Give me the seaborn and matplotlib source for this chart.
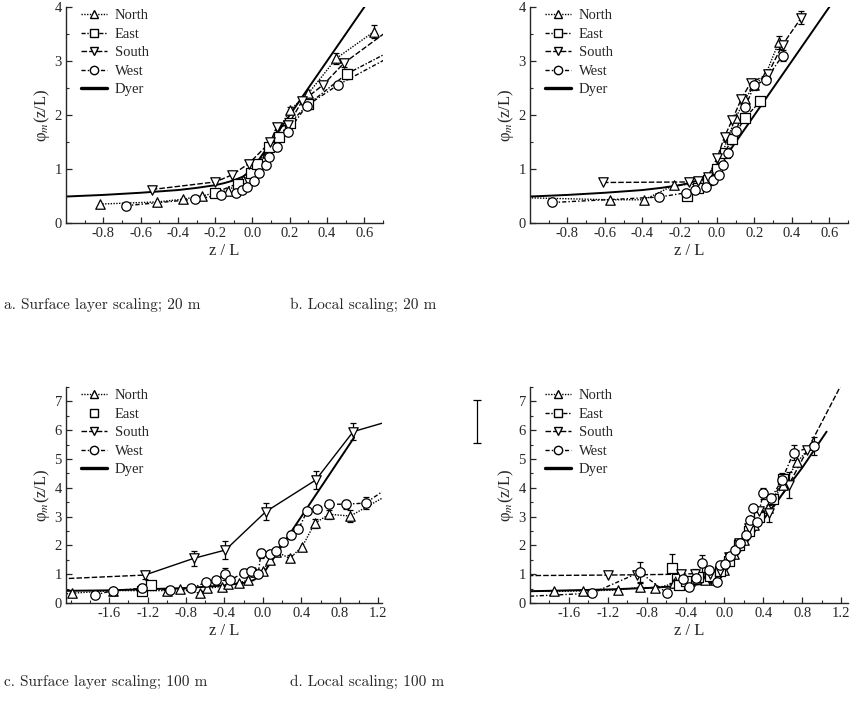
import numpy as np
import pandas as pd
import matplotlib
matplotlib.use("Agg")
import matplotlib.pyplot as plt
from matplotlib.lines import Line2D
from matplotlib.ticker import MultipleLocator, FormatStrFormatter
import seaborn as sns

sns.set_style("ticks")
plt.rcParams["font.family"] = ["Liberation Serif", "DejaVu Serif"]
plt.rcParams["mathtext.fontset"] = "stix"
plt.rcParams["axes.unicode_minus"] = False

# ---------------- data: panel a (surface layer scaling, 20 m) ----------------
a_north_x = [-0.82, -0.51, -0.375, -0.27, -0.2, -0.13, -0.05, 0.02, 0.08, 0.13, 0.2, 0.3, 0.45, 0.65]
a_north_y = [0.35, 0.39, 0.44, 0.5, 0.56, 0.6, 0.8, 1.05, 1.3, 1.65, 2.09, 2.4, 3.05, 3.54]
a_north_e = [0, 0, 0, 0, 0, 0, 0, 0, 0, 0, 0.06, 0, 0.1, 0.12]
a_east_x = [-0.2, -0.08, -0.007, 0.025, 0.087, 0.14, 0.2, 0.3, 0.505, 0.75]
a_east_y = [0.56, 0.73, 0.92, 1.09, 1.41, 1.6, 1.85, 2.2, 2.76, 3.2]
a_east_e = [0, 0, 0, 0, 0, 0, 0, 0, 0.1, 0]
a_south_x = [-0.54, -0.2, -0.11, -0.02, 0.096, 0.13, 0.19, 0.265, 0.38, 0.49, 0.75]
a_south_y = [0.62, 0.76, 0.89, 1.1, 1.5, 1.78, 1.81, 2.25, 2.56, 2.96, 3.62]
a_south_e = [0, 0, 0, 0, 0, 0.06, 0, 0, 0, 0.08, 0]
a_west_x = [-0.68, -0.31, -0.17, -0.09, -0.055, -0.03, 0.01, 0.034, 0.07, 0.09, 0.13, 0.19, 0.29, 0.46, 0.75]
a_west_y = [0.32, 0.44, 0.52, 0.56, 0.61, 0.66, 0.78, 0.92, 1.07, 1.23, 1.41, 1.69, 2.17, 2.56, 3.1]
a_west_e = [0] * 15

# ---------------- data: panel b (local scaling, 20 m) ----------------
b_north_x = [-1.05, -0.57, -0.39, -0.23, -0.1, -0.03, 0.02, 0.06, 0.1, 0.15, 0.2, 0.26, 0.33]
b_north_y = [0.47, 0.43, 0.43, 0.70, 0.72, 0.9, 1.2, 1.6, 1.95, 2.3, 2.55, 2.75, 3.35]
b_north_e = [0, 0, 0, 0, 0, 0, 0, 0, 0, 0, 0, 0, 0.12]
b_east_x = [-0.16, -0.1, -0.05, 0.0, 0.04, 0.08, 0.15, 0.23]
b_east_y = [0.50, 0.64, 0.8, 1.0, 1.3, 1.55, 1.95, 2.25]
b_east_e = [0, 0, 0, 0, 0, 0, 0, 0.08]
b_south_x = [-0.61, -0.15, -0.1, -0.05, 0.0, 0.04, 0.08, 0.13, 0.18, 0.27, 0.35, 0.45]
b_south_y = [0.75, 0.76, 0.78, 0.85, 1.2, 1.6, 1.9, 2.3, 2.6, 2.75, 3.3, 3.8]
b_south_e = [0, 0, 0, 0, 0, 0, 0, 0, 0, 0, 0, 0.12]
b_west_x = [-0.88, -0.31, -0.165, -0.12, -0.06, -0.02, 0.01, 0.03, 0.06, 0.1, 0.15, 0.2, 0.26, 0.35]
b_west_y = [0.38, 0.48, 0.56, 0.61, 0.67, 0.8, 0.89, 1.07, 1.3, 1.7, 2.15, 2.55, 2.65, 3.1]
b_west_e = [0, 0, 0, 0, 0, 0, 0, 0, 0, 0, 0, 0.08, 0, 0.1]

dyer_ab_x = [-1.0, -0.8, -0.6, -0.4, -0.3, -0.2, -0.15, -0.1, -0.05, 0.0, 0.7]
dyer_ab_y = [0.49, 0.52, 0.56, 0.61, 0.65, 0.70, 0.74, 0.79, 0.86, 1.0, 4.5]

# ---------------- data: panel c (surface layer scaling, 100 m) ----------------
c_north_x = [-2.1, -1.99, -1.56, -1.26, -1.0, -0.86, -0.66, -0.58, -0.43, -0.36, -0.25, -0.15, -0.08, 0.0,
             0.07, 0.14, 0.28, 0.41, 0.54, 0.69, 0.91, 1.3]
c_north_y = [0.3, 0.34, 0.43, 0.43, 0.43, 0.48, 0.34, 0.51, 0.57, 0.66, 0.7, 0.8, 1.09, 1.1,
             1.5, 1.78, 1.55, 1.96, 2.77, 3.08, 3.02, 3.75]
c_north_e = [0, 0, 0, 0, 0, 0, 0, 0, 0, 0, 0, 0, 0, 0, 0, 0, 0.1, 0, 0.15, 0.15, 0.2, 0]
c_east_x = [-1.26, -1.17]
c_east_y = [0.43, 0.62]
c_east_e = [0, 0.1]
c_south_x = [-2.1, -1.23, -0.72, -0.39, 0.03, 0.55, 0.94, 1.3]
c_south_y = [0.84, 0.97, 1.55, 1.84, 3.17, 4.27, 5.95, 6.3]
c_south_e = [0, 0.12, 0.25, 0.3, 0.3, 0.3, 0.3, 0]
c_west_x = [-1.75, -1.56, -1.26, -0.97, -0.75, -0.59, -0.49, -0.39, -0.34, -0.2, -0.12, -0.05, -0.02,
            0.07, 0.14, 0.21, 0.29, 0.37, 0.46, 0.56, 0.69, 0.86, 1.07, 1.3]
c_west_y = [0.28, 0.43, 0.51, 0.45, 0.51, 0.72, 0.8, 1.0, 0.8, 1.05, 1.1, 1.0, 1.72,
            1.70, 1.8, 2.13, 2.36, 2.56, 3.19, 3.28, 3.43, 3.43, 3.47, 4.0]
c_west_e = [0, 0, 0.15, 0.12, 0, 0, 0, 0.2, 0, 0.12, 0, 0, 0.15,
            0, 0, 0, 0.15, 0, 0, 0, 0, 0.15, 0.2, 0]
dyer_c_x = [-2.1, -1.6, -1.2, -0.8, -0.4, -0.2, -0.1, 0.0, 0.95]
dyer_c_y = [0.42, 0.44, 0.48, 0.52, 0.61, 0.70, 0.79, 1.0, 5.75]

# ---------------- data: panel d (local scaling, 100 m) ----------------
d_north_x = [-2.1, -1.75, -1.45, -1.09, -0.87, -0.71, -0.52, -0.35, -0.2, -0.1, 0.0, 0.1, 0.2, 0.3,
             0.45, 0.6, 0.75, 0.9]
d_north_y = [0.42, 0.4, 0.42, 0.45, 0.55, 0.51, 0.68, 0.75, 0.8, 0.8, 1.15, 1.7, 2.2, 2.7,
             3.3, 4.1, 4.9, 5.5]
d_north_e = [0, 0, 0, 0, 0.15, 0, 0, 0.12, 0.12, 0, 0, 0, 0, 0, 0, 0, 0, 0]
d_east_x = [-0.54, -0.47, -0.4, -0.27, -0.15, -0.05, 0.05, 0.15, 0.25, 0.35, 0.5, 0.6]
d_east_y = [1.2, 0.62, 0.78, 0.92, 0.95, 1.1, 1.45, 2.0, 2.5, 3.0, 3.6, 4.3]
d_east_e = [0.5, 0, 0, 0, 0, 0, 0, 0, 0, 0, 0, 0]
d_south_x = [-2.1, -1.2, -0.9, -0.45, -0.3, -0.15, -0.05, 0.05, 0.15, 0.25, 0.35, 0.46, 0.66, 0.85, 1.25]
d_south_y = [0.95, 0.97, 0.98, 1.0, 1.02, 1.0, 1.1, 1.6, 2.1, 2.6, 3.2, 3.11, 4.1, 5.3, 7.9]
d_south_e = [0, 0, 0, 0.15, 0.15, 0, 0, 0, 0, 0, 0, 0.3, 0.45, 0, 0]
d_west_x = [-2.1, -1.36, -0.87, -0.59, -0.43, -0.36, -0.29, -0.23, -0.16, -0.08, -0.05, 0.01, 0.06,
            0.11, 0.16, 0.22, 0.26, 0.29, 0.33, 0.40, 0.48, 0.59, 0.71, 0.92]
d_west_y = [0.22, 0.34, 1.07, 0.34, 0.82, 0.57, 0.86, 1.38, 1.15, 0.74, 1.32, 1.35, 1.63,
            1.84, 2.07, 2.36, 2.88, 3.29, 2.82, 3.81, 3.64, 4.27, 5.22, 5.45]
d_west_e = [0, 0, 0.35, 0, 0, 0, 0, 0.3, 0, 0, 0, 0, 0,
            0, 0, 0, 0, 0, 0, 0.2, 0, 0.25, 0.25, 0.3]
dyer_d_x = [-2.1, -1.2, -0.8, -0.4, -0.2, -0.07, 0.0, 0.4, 0.8, 1.05]
dyer_d_y = [0.40, 0.47, 0.52, 0.60, 0.67, 0.74, 1.05, 2.9, 4.7, 5.95]
stray_x = [-2.55]
stray_y = [6.3]
stray_e = [0.75]

labels = ["North", "East", "South", "West", "Dyer"]
markers = {"North": "^", "East": "s", "South": "v", "West": "o"}
styles = {"North": (0, (1, 1)), "East": (0, (3, 1.2, 1, 1.2)),
          "South": (0, (4, 1.5)), "West": (0, (3, 1.5, 1, 1.5))}

W, H = 852, 706
fig = plt.figure(figsize=(W / 100, H / 100), dpi=100)


def add_ax(l, r, t, b):
    return fig.add_axes([l / W, 1 - b / H, (r - l) / W, (b - t) / H])


def draw_series(ax, name, xs, ys, es, ls=None, split=None):
    df = pd.DataFrame({"x": xs, "y": ys})
    ls = styles[name] if ls is None else ls
    if split is None:
        sns.lineplot(data=df, x="x", y="y", ax=ax, sort=False, estimator=None, errorbar=None,
                     color="k", lw=1.0, linestyle=ls, zorder=2)
    else:
        sns.lineplot(data=df.iloc[:split + 1], x="x", y="y", ax=ax, sort=False, estimator=None,
                     errorbar=None, color="k", lw=1.0, linestyle=ls, zorder=2)
        sns.lineplot(data=df.iloc[split:], x="x", y="y", ax=ax, sort=False, estimator=None,
                     errorbar=None, color="k", lw=1.0, linestyle="-", zorder=2)
    e = np.array(es, dtype=float)
    m = e > 0
    if m.any():
        ax.errorbar(np.array(xs)[m], np.array(ys)[m], yerr=e[m], fmt="none", ecolor="k",
                    elinewidth=0.9, capsize=2.5, capthick=0.9, zorder=3)
    sns.scatterplot(data=df, x="x", y="y", ax=ax, marker=markers[name], s=46,
                    facecolor="white", edgecolor="k", linewidth=0.9, zorder=4)


def draw_dyer(ax, xs, ys):
    sns.lineplot(x=xs, y=ys, ax=ax, sort=False, estimator=None, errorbar=None,
                 color="k", lw=1.4, zorder=2)


def style_ax(ax, xlim, ylim, xticks, xminor, legend_east_line=True):
    ax.set_xlim(*xlim)
    ax.set_ylim(*ylim)
    ax.set_xticks(xticks)
    ax.xaxis.set_minor_locator(MultipleLocator(xminor))
    ax.yaxis.set_major_locator(MultipleLocator(1))
    ax.yaxis.set_minor_locator(MultipleLocator(0.5))
    ax.xaxis.set_major_formatter(FormatStrFormatter("%.1f"))
    ax.yaxis.set_major_formatter(FormatStrFormatter("%d"))
    for s in ["top", "right"]:
        ax.spines[s].set_visible(False)
    for s in ["left", "bottom"]:
        ax.spines[s].set_linewidth(1.0)
    ax.tick_params(which="major", direction="in", length=4, width=0.9, labelsize=10.5, pad=3)
    ax.tick_params(which="minor", direction="in", length=2.2, width=0.8)
    ax.set_xlabel("z / L", fontsize=12, labelpad=2)
    ax.set_ylabel("φ$_{m}$(z/L)", fontsize=12, labelpad=2)
    handles = []
    for n in ["North", "East", "South", "West"]:
        if n == "East" and not legend_east_line:
            handles.append(Line2D([], [], color="k", linestyle="none", marker="s", mfc="white",
                                  mec="k", ms=6))
        else:
            handles.append(Line2D([], [], color="k", lw=1.0, linestyle=styles[n], marker=markers[n],
                                  mfc="white", mec="k", ms=6))
    handles.append(Line2D([], [], color="k", lw=2.4))
    ax.legend(handles, labels, loc="upper left", bbox_to_anchor=(0.02, 1.03), frameon=False,
              fontsize=10.5, handlelength=1.8, handletextpad=0.5, labelspacing=0.36,
              numpoints=1, borderaxespad=0.2)


# panel a
ax_a = add_ax(66, 383, 7, 223)
draw_dyer(ax_a, dyer_ab_x, dyer_ab_y)
draw_series(ax_a, "North", a_north_x, a_north_y, a_north_e)
draw_series(ax_a, "East", a_east_x, a_east_y, a_east_e)
draw_series(ax_a, "South", a_south_x, a_south_y, a_south_e)
draw_series(ax_a, "West", a_west_x, a_west_y, a_west_e)
style_ax(ax_a, (-1.0, 0.7), (0, 4), [-0.8, -0.6, -0.4, -0.2, 0.0, 0.2, 0.4, 0.6], 0.1)

# panel b
ax_b = add_ax(530, 848, 7, 223)
draw_dyer(ax_b, dyer_ab_x, dyer_ab_y)
draw_series(ax_b, "North", b_north_x, b_north_y, b_north_e)
draw_series(ax_b, "East", b_east_x, b_east_y, b_east_e)
draw_series(ax_b, "South", b_south_x, b_south_y, b_south_e)
draw_series(ax_b, "West", b_west_x, b_west_y, b_west_e)
style_ax(ax_b, (-1.0, 0.7), (0, 4), [-0.8, -0.6, -0.4, -0.2, 0.0, 0.2, 0.4, 0.6], 0.1)

# panel c
ax_c = add_ax(66, 382, 387, 603)
draw_dyer(ax_c, dyer_c_x, dyer_c_y)
draw_series(ax_c, "North", c_north_x, c_north_y, c_north_e)
ec = pd.DataFrame({"x": c_east_x, "y": c_east_y})
eca = np.array(c_east_e)
ax_c.errorbar(np.array(c_east_x)[eca > 0], np.array(c_east_y)[eca > 0], yerr=eca[eca > 0],
              fmt="none", ecolor="k", elinewidth=0.9, capsize=2.5, zorder=3)
sns.scatterplot(data=ec, x="x", y="y", ax=ax_c, marker="s", s=46, facecolor="white",
                edgecolor="k", linewidth=0.9, zorder=4)
draw_series(ax_c, "South", c_south_x, c_south_y, c_south_e, split=1)
draw_series(ax_c, "West", c_west_x, c_west_y, c_west_e)
style_ax(ax_c, (-2.05, 1.24), (0, 7.5), [-1.6, -1.2, -0.8, -0.4, 0.0, 0.4, 0.8, 1.2], 0.2,
         legend_east_line=False)

# panel d
ax_d = add_ax(530, 848, 387, 603)
draw_dyer(ax_d, dyer_d_x, dyer_d_y)
draw_series(ax_d, "North", d_north_x, d_north_y, d_north_e)
draw_series(ax_d, "East", d_east_x, d_east_y, d_east_e)
draw_series(ax_d, "South", d_south_x, d_south_y, d_south_e)
draw_series(ax_d, "West", d_west_x, d_west_y, d_west_e)
style_ax(ax_d, (-2.0, 1.27), (0, 7.5), [-1.6, -1.2, -0.8, -0.4, 0.0, 0.4, 0.8, 1.2], 0.2)
stray = ax_d.errorbar(stray_x, stray_y, yerr=stray_e, fmt="none", ecolor="k", elinewidth=0.9,
                      capsize=3, capthick=0.9)
for art in list(stray.lines[1]) + list(stray.lines[2]):
    art.set_clip_on(False)

# captions
cap_kw = dict(family=["cmr10", "DejaVu Serif"], fontsize=11, va="center", ha="left")
fig.text(4 / W, 1 - 305 / H, "a. Surface layer scaling; 20 m", **cap_kw)
fig.text(290 / W, 1 - 305 / H, "b. Local scaling; 20 m", **cap_kw)
fig.text(4 / W, 1 - 682 / H, "c. Surface layer scaling; 100 m", **cap_kw)
fig.text(290 / W, 1 - 682 / H, "d. Local scaling; 100 m", **cap_kw)

fig.savefig("out.png", dpi=100, facecolor="white")
